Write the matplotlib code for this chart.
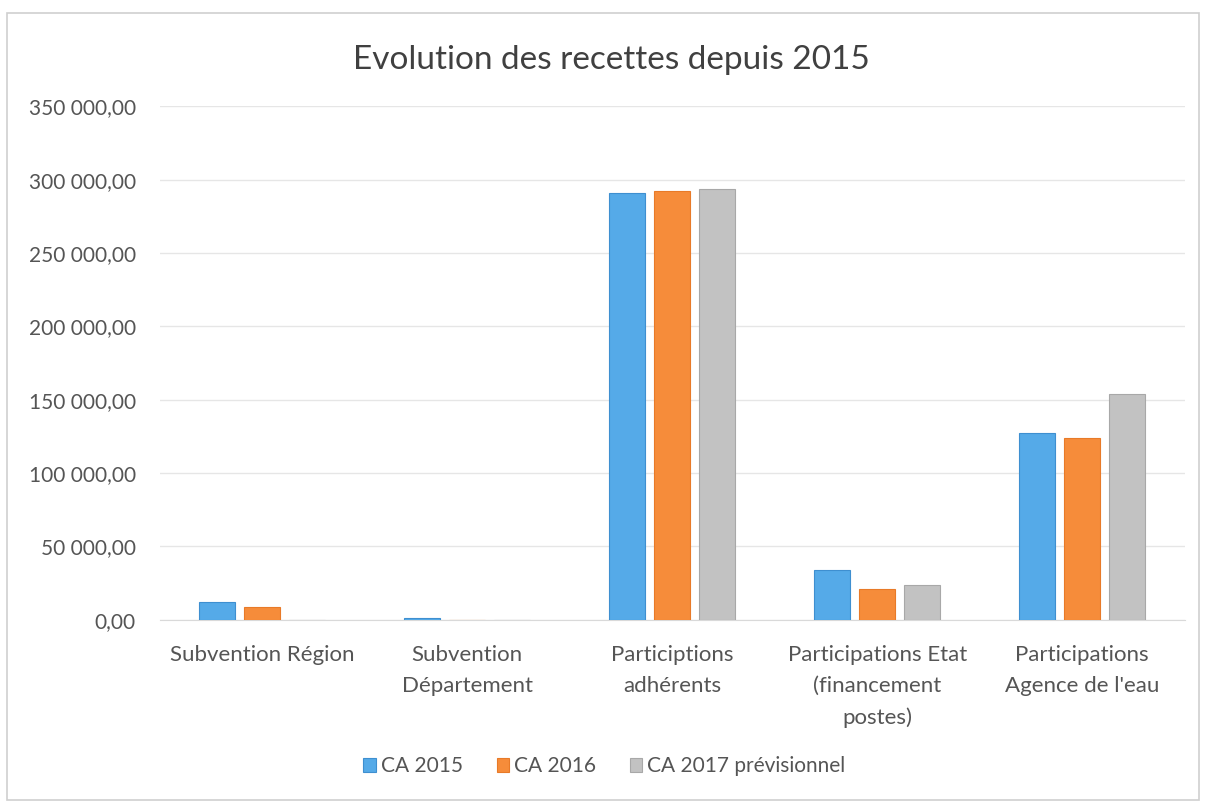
import numpy as np
import matplotlib.pyplot as plt
from matplotlib.patches import Rectangle
from matplotlib.ticker import FuncFormatter

# Données
categories = ["Subvention Région", "Subvention\nDépartement", "Participtions\nadhérents",
              "Participations Etat\n(financement\npostes)", "Participations\nAgence de l'eau"]
series_names = ["CA 2015", "CA 2016", "CA 2017 prévisionnel"]
ca_2015 = [12000, 1000, 291000, 34000, 127000]
ca_2016 = [9000, 0, 292500, 21000, 124000]
ca_2017 = [0, 0, 293500, 24000, 154000]

colors = ["#55AAE8", "#F68C3A", "#C2C2C2"]
edges = ["#3E8FD0", "#E87A28", "#A8A8A8"]
txt = "#555555"

plt.rcParams['font.family'] = ['Lato', 'DejaVu Sans']

fig = plt.figure(figsize=(12.09, 8.05), dpi=100)
fig.patches.append(Rectangle((0.006, 0.006), 0.986, 0.978, transform=fig.transFigure,
                             fill=False, edgecolor="#CFCFCF", linewidth=1.2))
ax = fig.add_axes([0.132, 0.23, 0.848, 0.638])

x = np.arange(len(categories))
w = 0.175
step = 0.22
for i, vals in enumerate([ca_2015, ca_2016, ca_2017]):
    ax.bar(x + (i - 1) * step, vals, width=w, color=colors[i], edgecolor=edges[i],
           linewidth=0.8, label=series_names[i], zorder=3)

ax.set_xlim(-0.5, len(categories) - 0.5)
ax.set_ylim(0, 350000)
ax.set_yticks(np.arange(0, 350001, 50000))
ax.yaxis.set_major_formatter(FuncFormatter(lambda v, p: f"{v:,.2f}".replace(",", " ").replace(".", ",")))
ax.set_xticks(x)
ax.set_xticklabels(categories, fontsize=16, color=txt, linespacing=1.7)
ax.tick_params(axis='y', labelsize=15, labelcolor=txt, length=0, pad=17)
ax.tick_params(axis='x', length=0, pad=18)
ax.grid(axis='y', color="#E6E6E6", linewidth=1, zorder=0)
for s in ["top", "right", "left"]:
    ax.spines[s].set_visible(False)
ax.spines["bottom"].set_color("#D9D9D9")

fig.text(0.506, 0.925, "Evolution des recettes depuis 2015", ha="center", va="center",
         fontsize=24, color="#404040")

fig.legend(loc="center", bbox_to_anchor=(0.5, 0.048), ncol=3, frameon=False,
           fontsize=15, labelcolor=txt, handlelength=0.6, handleheight=0.6,
           handletextpad=0.25, columnspacing=1.6)

fig.savefig("out.png", dpi=100)
